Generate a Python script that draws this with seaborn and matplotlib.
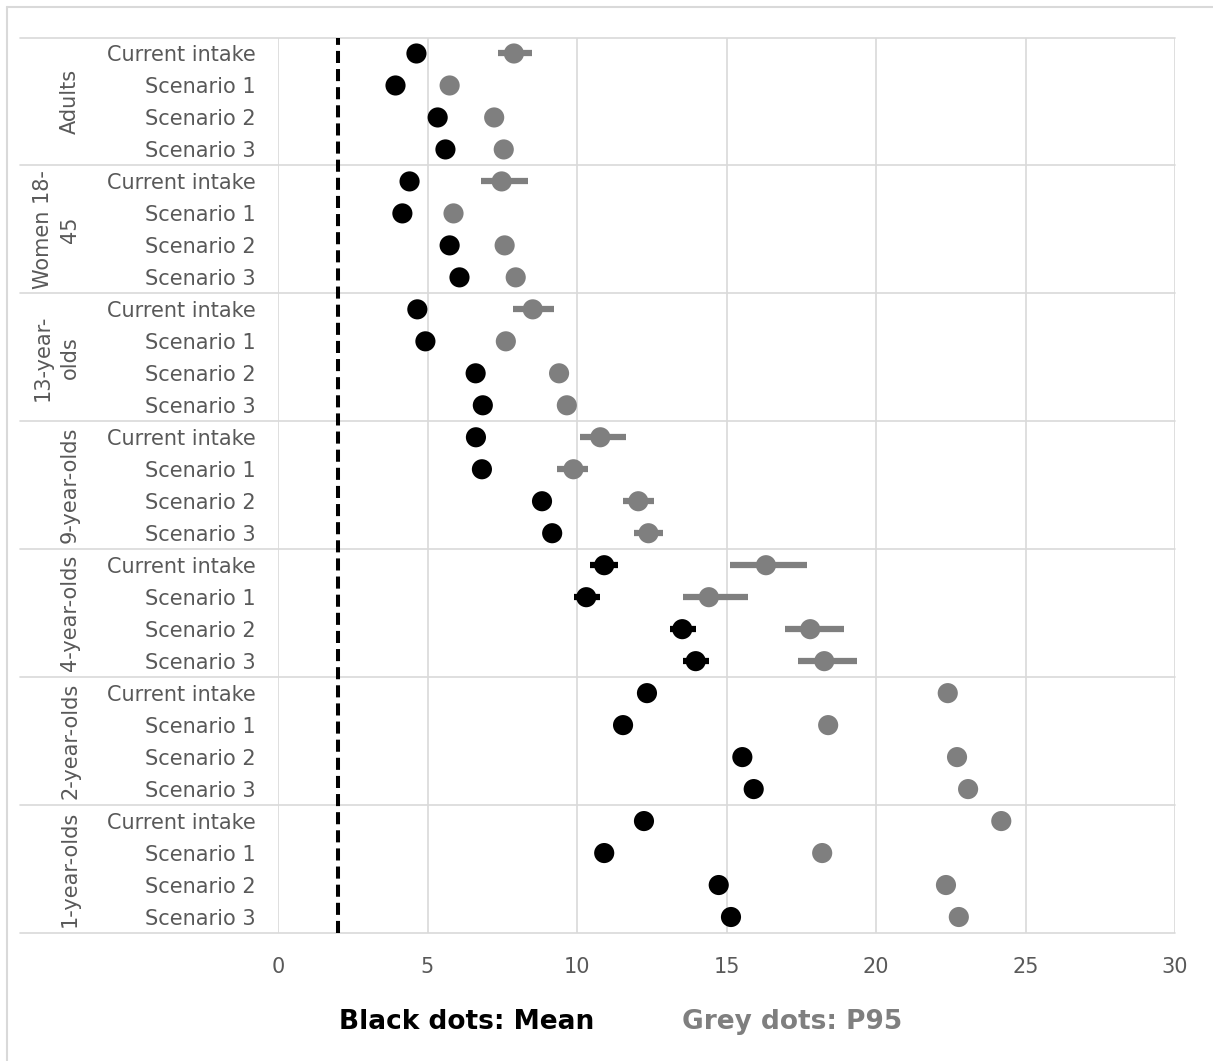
import numpy as np
import pandas as pd
import matplotlib.pyplot as plt
import matplotlib.transforms as mtransforms
from matplotlib.lines import Line2D
import seaborn as sns

# Data
groups = ['Adults', 'Women 18-\n45', '13-year-\nolds', '9-year-olds',
          '4-year-olds', '2-year-olds', '1-year-olds']
scenarios = ['Current intake', 'Scenario 1', 'Scenario 2', 'Scenario 3']

mean = [4.63, 3.93, 5.34, 5.60,
        4.40, 4.16, 5.74, 6.07,
        4.66, 4.93, 6.61, 6.85,
        6.62, 6.82, 8.83, 9.17,
        10.91, 10.31, 13.52, 13.97,
        12.34, 11.54, 15.53, 15.91,
        12.24, 10.91, 14.74, 15.15]
mean_lo = [np.nan] * 16 + [10.44, 9.89, 13.10, 13.54] + [np.nan] * 8
mean_hi = [np.nan] * 16 + [11.38, 10.77, 13.99, 14.43] + [np.nan] * 8

p95 = [7.89, 5.74, 7.23, 7.55,
       7.48, 5.87, 7.58, 7.95,
       8.52, 7.62, 9.40, 9.66,
       10.78, 9.88, 12.05, 12.39,
       16.32, 14.41, 17.80, 18.27,
       22.40, 18.40, 22.71, 23.08,
       24.19, 18.20, 22.34, 22.77]
p95_lo = [7.35, np.nan, np.nan, np.nan,
          6.78, np.nan, np.nan, np.nan,
          7.85, np.nan, np.nan, np.nan,
          10.10, 9.33, 11.55, 11.89,
          15.12, 13.54, 16.95, 17.40] + [np.nan] * 8
p95_hi = [8.49, np.nan, np.nan, np.nan,
          8.36, np.nan, np.nan, np.nan,
          9.23, np.nan, np.nan, np.nan,
          11.63, 10.37, 12.57, 12.89,
          17.69, 15.73, 18.93, 19.36] + [np.nan] * 8

limit = 2

df = pd.DataFrame({
    'group': np.repeat(groups, 4),
    'scenario': scenarios * len(groups),
    'mean': mean, 'mean_lo': mean_lo, 'mean_hi': mean_hi,
    'p95': p95, 'p95_lo': p95_lo, 'p95_hi': p95_hi,
})
df['pos'] = np.arange(len(df))

sns.set_style('white')
plt.rcParams['font.family'] = ['DejaVu Sans']

W, H = 1213, 1061
fig = plt.figure(figsize=(W / 100, H / 100), dpi=100)
ax = fig.add_axes([278 / W, 1 - 933 / H, (1175 - 278) / W, (933 - 37.5) / H])

txt = '#595959'
grey = '#7f7f7f'
gridc = '#d9d9d9'

# error bars first, dots on top
e = df.dropna(subset=['p95_lo'])
ax.hlines(e['pos'], e['p95_lo'], e['p95_hi'], color=grey, lw=4.5, zorder=2)
e = df.dropna(subset=['mean_lo'])
ax.hlines(e['pos'], e['mean_lo'], e['mean_hi'], color='black', lw=4.5, zorder=2)

sns.scatterplot(data=df, x='p95', y='pos', color=grey, s=210, edgecolor='none',
                zorder=3, ax=ax, legend=False)
sns.scatterplot(data=df, x='mean', y='pos', color='black', s=210, edgecolor='none',
                zorder=3, ax=ax, legend=False)

ax.axvline(limit, color='black', lw=2.9, dashes=(3, 1.5), zorder=2)

ax.set_xlim(0, 30)
ax.set_ylim(len(df) - 0.5, -0.5)
ax.set_xticks(range(0, 31, 5))
ax.set_yticks(df['pos'])
ax.set_yticklabels(df['scenario'])
ax.set_xlabel('')
ax.set_ylabel('')
ax.tick_params(axis='y', length=0, pad=16, labelsize=15, labelcolor=txt)
ax.tick_params(axis='x', length=0, pad=17, labelsize=15, labelcolor=txt)
ax.grid(axis='x', color=gridc, lw=1.2)
ax.grid(axis='y', visible=False)
for s in ax.spines.values():
    s.set_visible(False)

# group separators and group labels
trans = mtransforms.blended_transform_factory(ax.transAxes, ax.transData)
x_left = (20 - 278) / (1175 - 278)
for k in range(len(groups) + 1):
    yy = k * 4 - 0.5
    ax.plot([x_left, 1], [yy, yy], color=gridc, lw=1.2, transform=trans,
            clip_on=False, zorder=1)
x_grp = (80 - 278) / (1175 - 278)
for k, g in enumerate(groups):
    ax.text(x_grp, k * 4 + 1.5, g, rotation=90, ha='right', va='center',
            multialignment='center', fontsize=15, color=txt, transform=trans,
            linespacing=1.45)

# outer chart border (top and left edges visible)
fig.add_artist(Line2D([7 / W, 1], [1 - 7 / H, 1 - 7 / H], color=gridc, lw=1.5))
fig.add_artist(Line2D([7 / W, 7 / W], [0, 1 - 7 / H], color=gridc, lw=1.5))

fig.text(339 / W, 1 - 1022 / H, 'Black dots: Mean', ha='left', va='center',
         fontsize=19, fontweight='bold', color='black')
fig.text(682 / W, 1 - 1022 / H, 'Grey dots: P95', ha='left', va='center',
         fontsize=19, fontweight='bold', color=grey)

fig.savefig('out.png', dpi=100)
